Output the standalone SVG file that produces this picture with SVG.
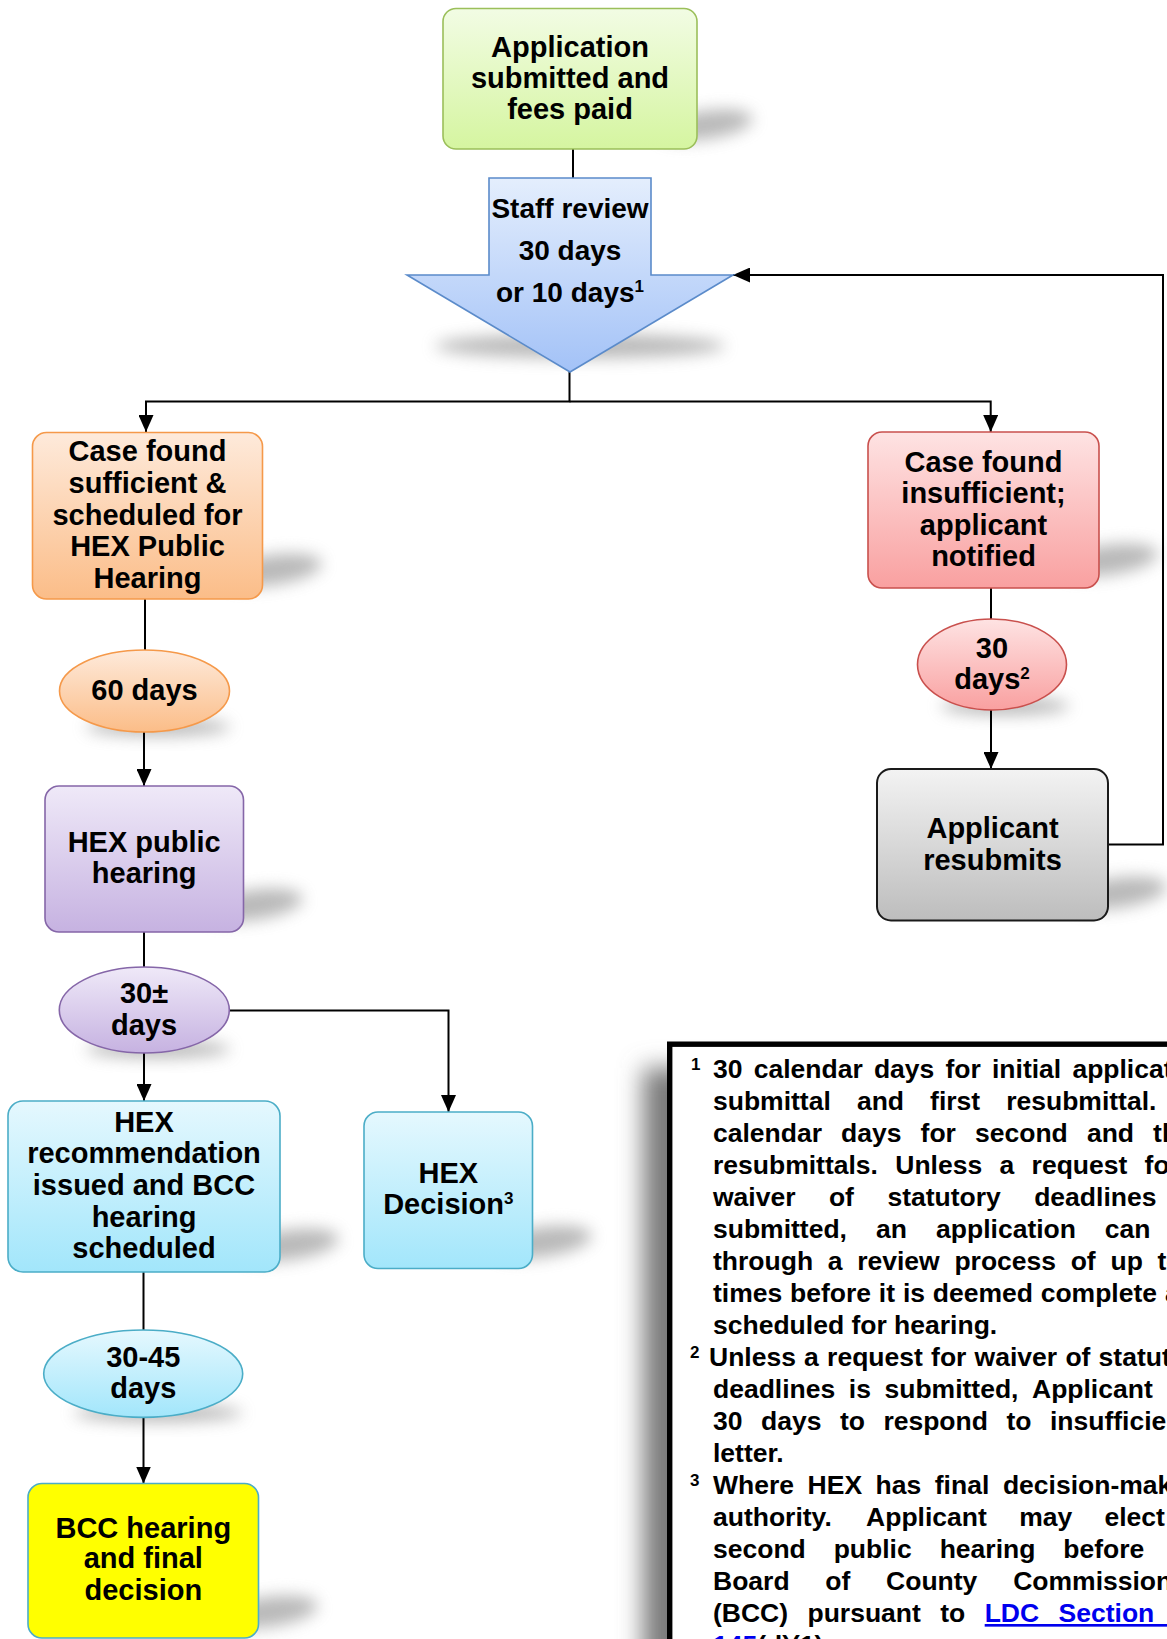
<svg xmlns="http://www.w3.org/2000/svg" width="1167" height="1639" viewBox="0 0 1167 1639">
<style>
.n{font-family:"Liberation Sans",Arial,sans-serif;font-weight:bold;font-size:29px;text-anchor:middle;fill:#000}
.st{font-size:28px}
.sp{font-size:17px}
.ft{font-family:"Liberation Sans",Arial,sans-serif;font-weight:bold;font-size:26.5px;fill:#000}
.mk{font-family:"Liberation Sans",Arial,sans-serif;font-weight:bold;font-size:17px;fill:#000}
.lnk{fill:#0000ee;text-decoration:underline}
.con{fill:none;stroke:#000;stroke-width:2}
.arr{marker-end:url(#ah)}
.shd{fill:#8a8a8a;opacity:.6;filter:url(#bl)}
</style>
<defs>
<filter id="bl" x="-50%" y="-80%" width="200%" height="260%"><feGaussianBlur stdDeviation="8"/></filter>
<filter id="bl2" x="-50%" y="-50%" width="200%" height="200%"><feGaussianBlur stdDeviation="12"/></filter>
<marker id="ah" markerWidth="17" markerHeight="15" refX="17" refY="7.5" orient="auto" markerUnits="userSpaceOnUse"><path d="M0,0 L17,7.5 L0,15 z" fill="#000"/></marker>
<linearGradient id="gGreen" x1="0" y1="0" x2="0" y2="1"><stop offset="0" stop-color="#f2fce4"/><stop offset="1" stop-color="#d5f5a0"/></linearGradient>
<linearGradient id="gBlue" x1="0" y1="0" x2="0" y2="1"><stop offset="0" stop-color="#e4eefd"/><stop offset="1" stop-color="#a3c2f7"/></linearGradient>
<linearGradient id="gOrange" x1="0" y1="0" x2="0" y2="1"><stop offset="0" stop-color="#feeadb"/><stop offset="1" stop-color="#fbbd88"/></linearGradient>
<linearGradient id="gRed" x1="0" y1="0" x2="0" y2="1"><stop offset="0" stop-color="#fee3e3"/><stop offset="1" stop-color="#f9a0a0"/></linearGradient>
<linearGradient id="gGray" x1="0" y1="0" x2="0" y2="1"><stop offset="0" stop-color="#f3f3f3"/><stop offset="1" stop-color="#bdbdbd"/></linearGradient>
<linearGradient id="gPurple" x1="0" y1="0" x2="0" y2="1"><stop offset="0" stop-color="#efe9f8"/><stop offset="1" stop-color="#c6b2e1"/></linearGradient>
<linearGradient id="gCyan" x1="0" y1="0" x2="0" y2="1"><stop offset="0" stop-color="#e5f8fe"/><stop offset="1" stop-color="#a2e6fb"/></linearGradient>
</defs>
<rect width="1167" height="1639" fill="#fff"/>

<g id="shadows">
<ellipse class="shd" cx="705" cy="125" rx="48" ry="14" transform="rotate(-8 705 125)"/>
<ellipse class="shd" cx="580" cy="346" rx="145" ry="12"/>
<ellipse class="shd" cx="272" cy="570" rx="50" ry="15" transform="rotate(-8 272 570)"/>
<ellipse class="shd" cx="158" cy="727" rx="72" ry="9"/>
<ellipse class="shd" cx="1108" cy="560" rx="50" ry="15" transform="rotate(-8 1108 560)"/>
<ellipse class="shd" cx="1005" cy="706" rx="64" ry="9"/>
<ellipse class="shd" cx="1117" cy="893" rx="50" ry="15" transform="rotate(-8 1117 893)"/>
<ellipse class="shd" cx="253" cy="905" rx="50" ry="15" transform="rotate(-8 253 905)"/>
<ellipse class="shd" cx="158" cy="1049" rx="72" ry="9"/>
<ellipse class="shd" cx="289" cy="1245" rx="50" ry="15" transform="rotate(-8 289 1245)"/>
<ellipse class="shd" cx="542" cy="1242" rx="50" ry="15" transform="rotate(-8 542 1242)"/>
<ellipse class="shd" cx="158" cy="1413" rx="84" ry="9"/>
<ellipse class="shd" cx="268" cy="1612" rx="50" ry="15" transform="rotate(-8 268 1612)"/>
<rect x="643" y="1068" width="600" height="700" fill="#7a7a7a" filter="url(#bl2)"/>
</g>

<g id="connectors">
<path class="con" d="M573,149 V178"/>
<path class="con arr" d="M569.5,372 V401.5 H146 V432"/>
<path class="con arr" d="M569.5,401.5 H990.7 V432"/>
<path class="con" d="M145,599 V650"/>
<path class="con arr" d="M144,732 V786"/>
<path class="con" d="M144,932 V967"/>
<path class="con arr" d="M144,1053 V1101"/>
<path class="con arr" d="M229.3,1010.5 H448.5 V1112"/>
<path class="con" d="M143.5,1272 V1330"/>
<path class="con arr" d="M143.5,1417.5 V1483.5"/>
<path class="con" d="M991,588 V619"/>
<path class="con arr" d="M991,710 V769"/>
<path class="con arr" d="M1108,844.5 H1163 V275 H733"/>
</g>

<g id="n-application">
<rect x="443" y="8.5" width="254" height="140.5" rx="13" fill="url(#gGreen)" stroke="#9bbf5a" stroke-width="1.6"/>
<text class="n" x="570" y="57">Application</text>
<text class="n" x="570" y="88">submitted and</text>
<text class="n" x="570" y="119">fees paid</text>
</g>

<g id="n-staff-review">
<polygon points="489,178 651,178 651,275 733,275 570,372 407,275 489,275" fill="url(#gBlue)" stroke="#5b8bca" stroke-width="1.6"/>
<text class="n st" x="570" y="218">Staff review</text>
<text class="n st" x="570" y="260">30 days</text>
<text class="n st" x="570" y="302">or 10 days<tspan class="sp" dy="-10">1</tspan></text>
</g>

<g id="n-sufficient">
<rect x="32.5" y="432.5" width="230" height="166.5" rx="14" fill="url(#gOrange)" stroke="#f5994a" stroke-width="1.6"/>
<text class="n" x="147.5" y="461">Case found</text>
<text class="n" x="147.5" y="493">sufficient &amp;</text>
<text class="n" x="147.5" y="524.5">scheduled for</text>
<text class="n" x="147.5" y="556">HEX Public</text>
<text class="n" x="147.5" y="587.5">Hearing</text>
</g>

<g id="n-60days">
<ellipse cx="144.5" cy="691" rx="85" ry="41" fill="url(#gOrange)" stroke="#f5994a" stroke-width="1.6"/>
<text class="n" x="144.5" y="700">60 days</text>
</g>

<g id="n-insufficient">
<rect x="868" y="432" width="231" height="156" rx="14" fill="url(#gRed)" stroke="#c9504d" stroke-width="1.6"/>
<text class="n" x="983.5" y="472">Case found</text>
<text class="n" x="983.5" y="503">insufficient;</text>
<text class="n" x="983.5" y="535">applicant</text>
<text class="n" x="983.5" y="566">notified</text>
</g>

<g id="n-30days">
<ellipse cx="992" cy="664.5" rx="74.5" ry="45.5" fill="url(#gRed)" stroke="#c9504d" stroke-width="1.6"/>
<text class="n" x="992" y="657.5">30</text>
<text class="n" x="992" y="689">days<tspan class="sp" dy="-10">2</tspan></text>
</g>

<g id="n-resubmits">
<rect x="877" y="769" width="231" height="151.5" rx="14" fill="url(#gGray)" stroke="#1a1a1a" stroke-width="2"/>
<text class="n" x="992.5" y="838">Applicant</text>
<text class="n" x="992.5" y="870">resubmits</text>
</g>

<g id="n-hex-hearing">
<rect x="45" y="786" width="198.5" height="146" rx="14" fill="url(#gPurple)" stroke="#8566a8" stroke-width="1.6"/>
<text class="n" x="144.2" y="851.7">HEX public</text>
<text class="n" x="144.2" y="883.3">hearing</text>
</g>

<g id="n-30pm">
<ellipse cx="144.3" cy="1010" rx="85" ry="43" fill="url(#gPurple)" stroke="#8566a8" stroke-width="1.6"/>
<text class="n" x="144" y="1003.3">30±</text>
<text class="n" x="144" y="1035">days</text>
</g>

<g id="n-hex-rec">
<rect x="8" y="1101" width="272" height="171" rx="15" fill="url(#gCyan)" stroke="#4badc7" stroke-width="1.6"/>
<text class="n" x="144" y="1131.7">HEX</text>
<text class="n" x="144" y="1163.3">recommendation</text>
<text class="n" x="144" y="1195">issued and BCC</text>
<text class="n" x="144" y="1226.7">hearing</text>
<text class="n" x="144" y="1258.3">scheduled</text>
</g>

<g id="n-hex-decision">
<rect x="364" y="1112" width="168.5" height="156.5" rx="14" fill="url(#gCyan)" stroke="#4badc7" stroke-width="1.6"/>
<text class="n" x="448.3" y="1182.7">HEX</text>
<text class="n" x="448.3" y="1214.3">Decision<tspan class="sp" dy="-10">3</tspan></text>
</g>

<g id="n-3045">
<ellipse cx="143.2" cy="1373.7" rx="99.5" ry="43.7" fill="url(#gCyan)" stroke="#4badc7" stroke-width="1.6"/>
<text class="n" x="143.3" y="1367.3">30-45</text>
<text class="n" x="143.3" y="1398.3">days</text>
</g>

<g id="n-bcc">
<rect x="28" y="1483.5" width="230.5" height="154.5" rx="14" fill="#ffff00" stroke="#4badc7" stroke-width="1.6"/>
<text class="n" x="143.3" y="1538.3">BCC hearing</text>
<text class="n" x="143.3" y="1568.3">and final</text>
<text class="n" x="143.3" y="1600">decision</text>
</g>

<g id="n-notes">
<rect x="669.7" y="1044.2" width="600" height="700" fill="#fff" stroke="#000" stroke-width="5.4"/>
<text class="mk" x="691" y="1070">1</text>
<text class="ft" y="1078"><tspan x="713">30</tspan><tspan x="753.7">calendar</tspan><tspan x="873.9">days</tspan><tspan x="945.5">for</tspan><tspan x="992">initial</tspan><tspan x="1072.4">application</tspan></text>
<text class="ft" y="1110"><tspan x="713">submittal</tspan><tspan x="856.9">and</tspan><tspan x="930.1">first</tspan><tspan x="1006.2">resubmittal.</tspan><tspan x="1182.5">10</tspan></text>
<text class="ft" y="1142"><tspan x="713">calendar</tspan><tspan x="841.1">days</tspan><tspan x="920.6">for</tspan><tspan x="975">second</tspan><tspan x="1086.9">and</tspan><tspan x="1153.1">third</tspan></text>
<text class="ft" y="1174"><tspan x="713">resubmittals.</tspan><tspan x="895.3">Unless</tspan><tspan x="999.5">a</tspan><tspan x="1031.6">request</tspan><tspan x="1144.6">for</tspan><tspan x="1197.3">a</tspan></text>
<text class="ft" y="1206"><tspan x="713">waiver</tspan><tspan x="828.9">of</tspan><tspan x="887.4">statutory</tspan><tspan x="1034.2">deadlines</tspan><tspan x="1189.9">is</tspan></text>
<text class="ft" y="1238"><tspan x="713">submitted,</tspan><tspan x="876.1">an</tspan><tspan x="936.1">application</tspan><tspan x="1104.8">can</tspan><tspan x="1179.6">go</tspan></text>
<text class="ft" y="1270"><tspan x="713">through</tspan><tspan x="827.8">a</tspan><tspan x="857.2">review</tspan><tspan x="954.4">process</tspan><tspan x="1070.7">of</tspan><tspan x="1110.5">up</tspan><tspan x="1157.5">to</tspan><tspan x="1197.3">3</tspan></text>
<text class="ft" y="1302"><tspan x="713">times</tspan><tspan x="790">before</tspan><tspan x="878.8">it</tspan><tspan x="902.9">is</tspan><tspan x="932.8">deemed</tspan><tspan x="1040.7">complete</tspan><tspan x="1164.9">and</tspan></text>
<text class="ft" x="713" y="1334">scheduled for hearing.</text>
<text class="mk" x="690" y="1358">2</text>
<text class="ft" y="1366"><tspan x="709">Unless</tspan><tspan x="804.1">a</tspan><tspan x="827.1">request</tspan><tspan x="931.1">for</tspan><tspan x="974.6">waiver</tspan><tspan x="1065.4">of</tspan><tspan x="1098.6">statutory</tspan></text>
<text class="ft" y="1398"><tspan x="713">deadlines</tspan><tspan x="848.8">is</tspan><tspan x="884.5">submitted,</tspan><tspan x="1032">Applicant</tspan><tspan x="1166.3">has</tspan></text>
<text class="ft" y="1430"><tspan x="713">30</tspan><tspan x="761">days</tspan><tspan x="839.9">to</tspan><tspan x="883.4">respond</tspan><tspan x="1006.5">to</tspan><tspan x="1050">insufficiency</tspan></text>
<text class="ft" x="713" y="1462">letter.</text>
<text class="mk" x="690" y="1486">3</text>
<text class="ft" y="1494"><tspan x="713">Where</tspan><tspan x="807.6">HEX</tspan><tspan x="875.6">has</tspan><tspan x="934.8">final</tspan><tspan x="1002.9">decision-making</tspan></text>
<text class="ft" y="1526"><tspan x="713">authority.</tspan><tspan x="866.1">Applicant</tspan><tspan x="1019.2">may</tspan><tspan x="1104.5">elect</tspan><tspan x="1197.3">a</tspan></text>
<text class="ft" y="1558"><tspan x="713">second</tspan><tspan x="833.7">public</tspan><tspan x="939.7">hearing</tspan><tspan x="1063.3">before</tspan><tspan x="1172.2">the</tspan></text>
<text class="ft" y="1590"><tspan x="713">Board</tspan><tspan x="825.3">of</tspan><tspan x="886.1">County</tspan><tspan x="1013.2">Commissioners</tspan></text>
<text class="ft" y="1622"><tspan x="713">(BCC)</tspan><tspan x="807.5">pursuant</tspan><tspan x="940.3">to</tspan><tspan x="984.7" class="lnk" style="word-spacing:12.05px">LDC Section 34-</tspan></text>
<text class="ft" x="713" y="1654"><tspan class="lnk">145</tspan>(d)(1).</text>
</g>
</svg>
